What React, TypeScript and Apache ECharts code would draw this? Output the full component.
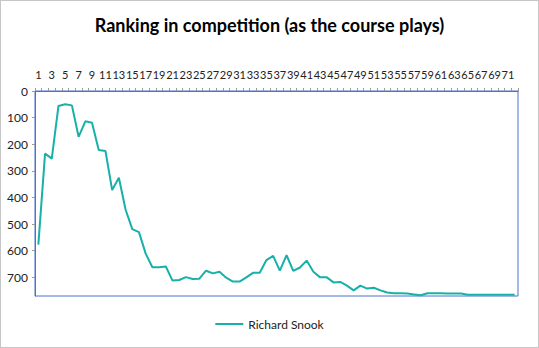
import React, { useEffect, useRef } from "react";
import * as echarts from "echarts";

const TITLE = "Ranking in competition (as the course plays)";
const SERIES_NAME = "Richard Snook";
const categories: string[] = Array.from({ length: 72 }, (_, i) => String(i + 1));
const rankings: number[] = [
  577, 235, 254, 56, 50, 54, 172, 114, 119, 222,
  225, 372, 326, 445, 519, 530, 611, 662, 662, 659,
  712, 710, 699, 706, 705, 675, 685, 679, 701, 716,
  716, 700, 683, 683, 635, 619, 675, 617, 676, 663,
  637, 679, 700, 700, 719, 717, 731, 749, 731, 742,
  739, 749, 757, 760, 760, 761, 764, 767, 760, 760,
  760, 761, 761, 761, 765, 765, 765, 765, 765, 765,
  765, 765,
];
const Y_MIN = 0;
const Y_MAX = 770;
const Y_STEP = 100;

export default function App() {
  const ref = useRef<HTMLDivElement>(null);
  useEffect(() => {
    document.body.style.margin = "0";
    if (!ref.current) return;
    const chart = echarts.init(ref.current, undefined, { renderer: "svg" });
    const font = "Lato, 'Open Sans', sans-serif";
    chart.setOption({
      animation: false,
      backgroundColor: "#ffffff",
      textStyle: { fontFamily: font },
      title: {
        text: TITLE,
        left: "center",
        top: 11,
        textStyle: { fontFamily: font, fontSize: 18, fontWeight: "bold", color: "#000" },
      },
      graphic: [
        {
          type: "rect",
          shape: { x: 0.5, y: 0.5, width: 538, height: 347 },
          style: { fill: "none", stroke: "#8c8c8c", lineWidth: 1, lineDash: [1, 1] },
          silent: true,
        },
      ],
      legend: {
        bottom: 13,
        left: "center",
        itemWidth: 28,
        itemHeight: 2,
        itemGap: 4,
        textStyle: { fontFamily: font, fontSize: 12, color: "#222" },
        data: [{ name: SERIES_NAME, icon: "rect" }],
      },
      grid: { left: 35, right: 21, top: 91, bottom: 52, show: true, borderColor: "#4a72d0", borderWidth: 1, backgroundColor: "transparent" },
      xAxis: {
        type: "category",
        position: "top",
        data: categories,
        boundaryGap: true,
        axisLine: { show: true, lineStyle: { color: "#4a72d0", width: 1 } },
        axisTick: { show: true, interval: 0, length: 3, lineStyle: { color: "#9a9a9a" } },
        axisLabel: { interval: 1, fontSize: 11, color: "#222", margin: 11, fontFamily: font },
        splitLine: { show: false },
      },
      yAxis: {
        type: "value",
        inverse: true,
        min: Y_MIN,
        max: Y_MAX,
        interval: Y_STEP,
        axisLine: { show: true, lineStyle: { color: "#4a72d0", width: 1 } },
        axisTick: { show: true, length: 3, lineStyle: { color: "#9a9a9a" } },
        axisLabel: { fontSize: 12, color: "#222", margin: 7, fontFamily: font, showMaxLabel: false },
        splitLine: { show: false },
      },
      series: [
        {
          name: SERIES_NAME,
          type: "line",
          data: rankings,
          symbol: "none",
          lineStyle: { color: "#17b1aa", width: 2 },
          itemStyle: { color: "#17b1aa" },
        },
      ],
    });
    return () => chart.dispose();
  }, []);
  return <div ref={ref} style={{ width: 539, height: 348 }} />;
}
